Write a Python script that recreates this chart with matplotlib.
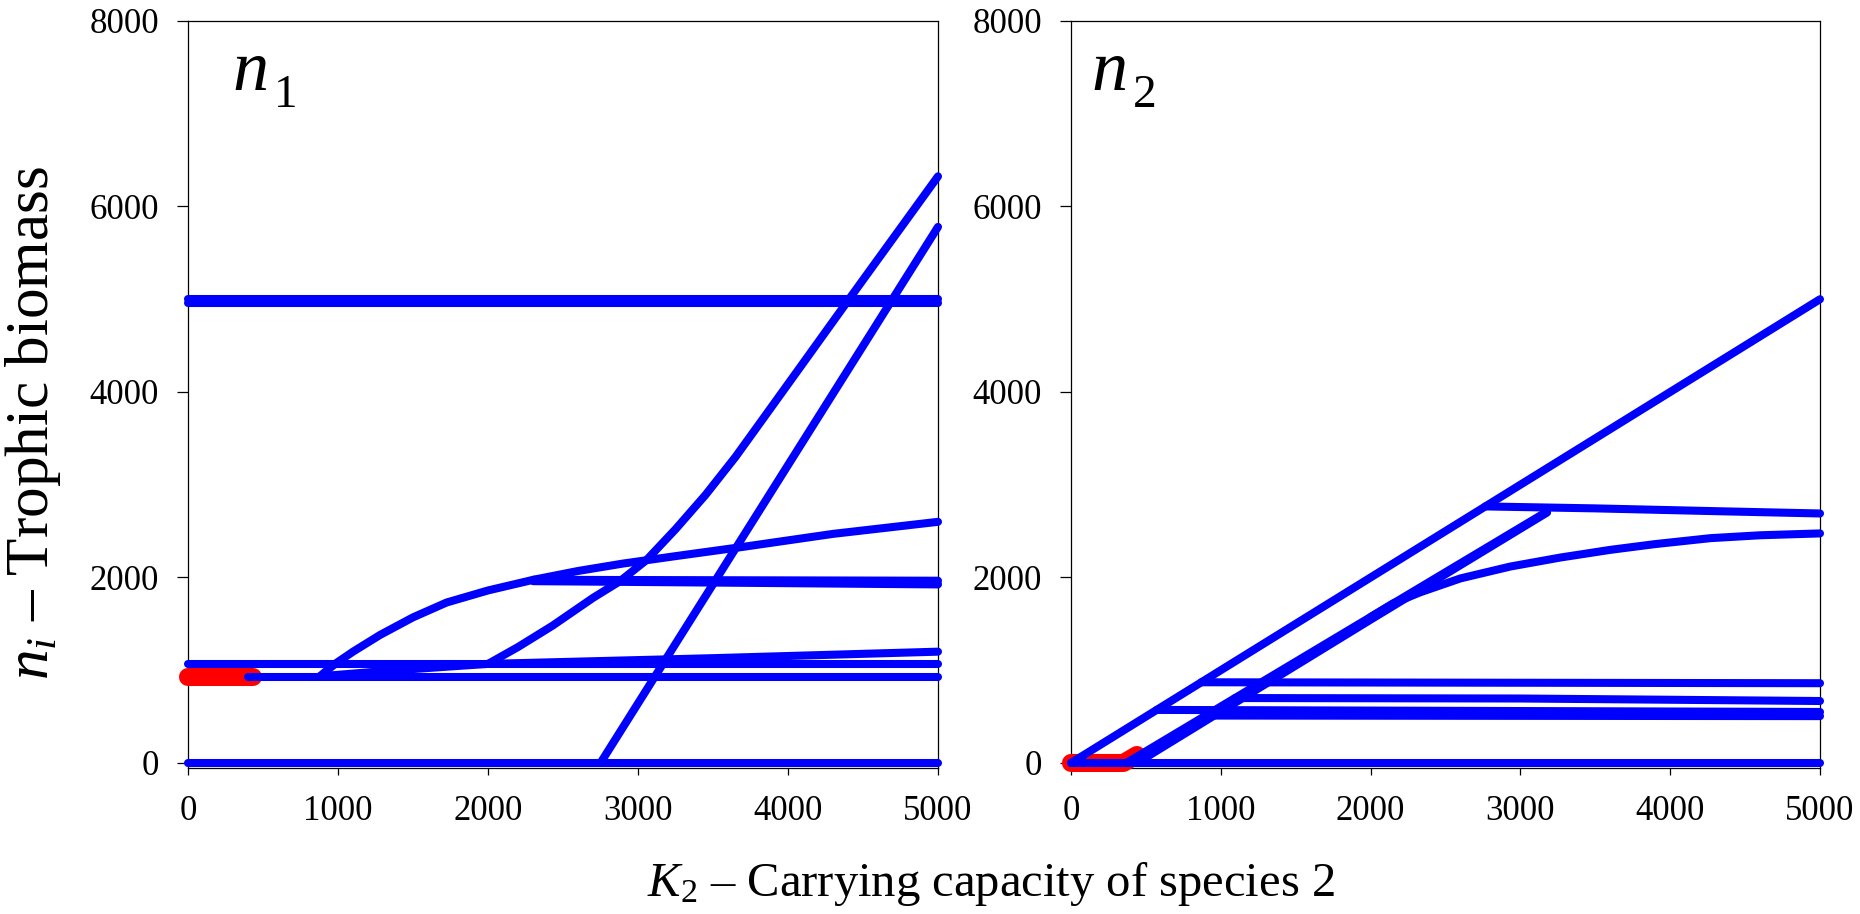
import matplotlib
matplotlib.use("Agg")
import matplotlib.pyplot as plt

plt.rcParams['font.family'] = ['Liberation Serif', 'DejaVu Serif']
plt.rcParams['mathtext.fontset'] = 'custom'
plt.rcParams['mathtext.rm'] = 'Liberation Serif'
plt.rcParams['mathtext.it'] = 'Liberation Serif:italic'

# ---------------- data ----------------
x_ticks = [0, 1000, 2000, 3000, 4000, 5000]
y_ticks = [0, 2000, 4000, 6000, 8000]
x_ticklabels = ['0', '1000', '2000', '3000', '4000', '5000']
y_ticklabels = ['0', '2000', '4000', '6000', '8000']

# Panel n1 (blue = unstable/other branches, red = stable)
n1_zero_x = [0, 5000];                 n1_zero_y = [0, 0]
n1_top_a_x = [0, 5000];                n1_top_a_y = [5000, 5000]
n1_top_b_x = [0, 5000];                n1_top_b_y = [4960, 4960]
n1_c_x = [0, 5000];                    n1_c_y = [1068, 1068]
n1_d_x = [400, 5000];                  n1_d_y = [930, 930]
n1_e_x = [880, 920, 991, 1100, 1280, 1500, 1724, 2000, 2302, 2600, 2900, 3250, 3700, 4300, 5000]
n1_e_y = [935, 990, 1080, 1200, 1380, 1570, 1730, 1860, 1975, 2070, 2150, 2230, 2330, 2470, 2600]
n1_j_x = [880, 1300, 1700, 2000];      n1_j_y = [935, 990, 1035, 1068]
n1_g_x = [2000, 2200, 2430, 2700, 2880, 3058, 3250, 3450, 3650, 3824, 4100, 4420, 5000]
n1_g_y = [1068, 1250, 1480, 1780, 1960, 2190, 2520, 2890, 3300, 3690, 4310, 5030, 6325]
n1_h_x = [2750, 5000];                 n1_h_y = [0, 5780]
n1_i_x = [2000, 3500, 5000];           n1_i_y = [1068, 1130, 1200]
n1_f1_x = [2302, 5000];                n1_f1_y = [1975, 1965]
n1_f2_x = [2302, 3500, 5000];          n1_f2_y = [1960, 1945, 1925]
n1_red_x = [0, 430];                   n1_red_y = [928, 928]

# Panel n2
n2_zero_x = [0, 5000];                 n2_zero_y = [0, 0]
n2_a_x = [0, 5000];                    n2_a_y = [0, 5000]
n2_b1_x = [370, 3178];                 n2_b1_y = [0, 2711]
n2_b2_x = [440, 2000, 3178];           n2_b2_y = [0, 1545, 2700]
n2_p_x = [2000, 2150, 2331, 2600, 2933, 3267, 3601, 3900, 4269, 4600, 5000]
n2_p_y = [1573, 1720, 1840, 1990, 2118, 2215, 2298, 2360, 2424, 2455, 2475]
n2_n_x = [2766, 3500, 4300, 5000];     n2_n_y = [2766, 2745, 2715, 2690]
n2_k_x = [870, 5000];                  n2_k_y = [870, 860]
n2_l_x = [1095, 3000, 5000];           n2_l_y = [700, 695, 668]
n2_m1_x = [572, 5000];                 n2_m1_y = [572, 550]
n2_m2_x = [900, 5000];                 n2_m2_y = [511, 505]
n2_red_x = [0, 350, 440];              n2_red_y = [0, 0, 86]

blue_series_1 = [
    (n1_zero_x, n1_zero_y), (n1_top_a_x, n1_top_a_y), (n1_top_b_x, n1_top_b_y),
    (n1_c_x, n1_c_y), (n1_d_x, n1_d_y), (n1_e_x, n1_e_y), (n1_j_x, n1_j_y),
    (n1_g_x, n1_g_y), (n1_h_x, n1_h_y), (n1_i_x, n1_i_y),
    (n1_f1_x, n1_f1_y), (n1_f2_x, n1_f2_y),
]
red_series_1 = [(n1_red_x, n1_red_y)]
blue_series_2 = [
    (n2_zero_x, n2_zero_y), (n2_a_x, n2_a_y), (n2_b1_x, n2_b1_y), (n2_b2_x, n2_b2_y),
    (n2_p_x, n2_p_y), (n2_n_x, n2_n_y), (n2_k_x, n2_k_y), (n2_l_x, n2_l_y),
    (n2_m1_x, n2_m1_y), (n2_m2_x, n2_m2_y),
]
red_series_2 = [(n2_red_x, n2_red_y)]

# ---------------- figure ----------------
W, H = 1860, 914
fig = plt.figure(figsize=(W / 100, H / 100), dpi=100)
bottom_px, top_px = 767.6, 21
ax1 = fig.add_axes([188 / W, 1 - bottom_px / H, 750 / W, (bottom_px - top_px) / H])
ax2 = fig.add_axes([1071 / W, 1 - bottom_px / H, 749 / W, (bottom_px - top_px) / H])

BLUE = '#0000ff'
RED = '#ff0000'

def draw(ax, blues, reds, sub, lx):
    for xs, ys in reds:
        ax.plot(xs, ys, color=RED, lw=13, solid_capstyle='round',
                solid_joinstyle='round', clip_on=False, zorder=2)
    for xs, ys in blues:
        ax.plot(xs, ys, color=BLUE, lw=5.8, solid_capstyle='round',
                solid_joinstyle='round', clip_on=False, zorder=3)
    ax.set_xlim(0, 5000)
    ax.set_ylim(-50, 8000)
    ax.set_xticks(x_ticks)
    ax.set_xticklabels(x_ticklabels)
    ax.set_yticks(y_ticks)
    ax.set_yticklabels(y_ticklabels)
    ax.tick_params(axis='y', direction='out', length=8, width=0.9,
                   labelsize=25, pad=13)
    ax.tick_params(axis='x', direction='out', length=5, width=0.9,
                   labelsize=25, pad=15)
    for s in ax.spines.values():
        s.set_linewidth(0.9)
        s.set_zorder(1)
    ax.text(lx, 0.9076, r'$n$', transform=ax.transAxes, fontsize=52,
            ha='left', va='baseline')
    ax.text(lx + 0.056, 0.885, sub, transform=ax.transAxes, fontsize=34,
            ha='left', va='baseline')

draw(ax1, blue_series_1, red_series_1, '1', 0.058)
draw(ax2, blue_series_2, red_series_2, '2', 0.027)

fig.text(33 / W, 1 - 423 / H, r'$n_i$ – Trophic biomass', rotation=90,
         ha='center', va='center', fontsize=44)
fig.text(991 / W, 1 - 884 / H, r'$K_2$ – Carrying capacity of species 2',
         ha='center', va='center', fontsize=35)

fig.savefig('out.png', dpi=100)
